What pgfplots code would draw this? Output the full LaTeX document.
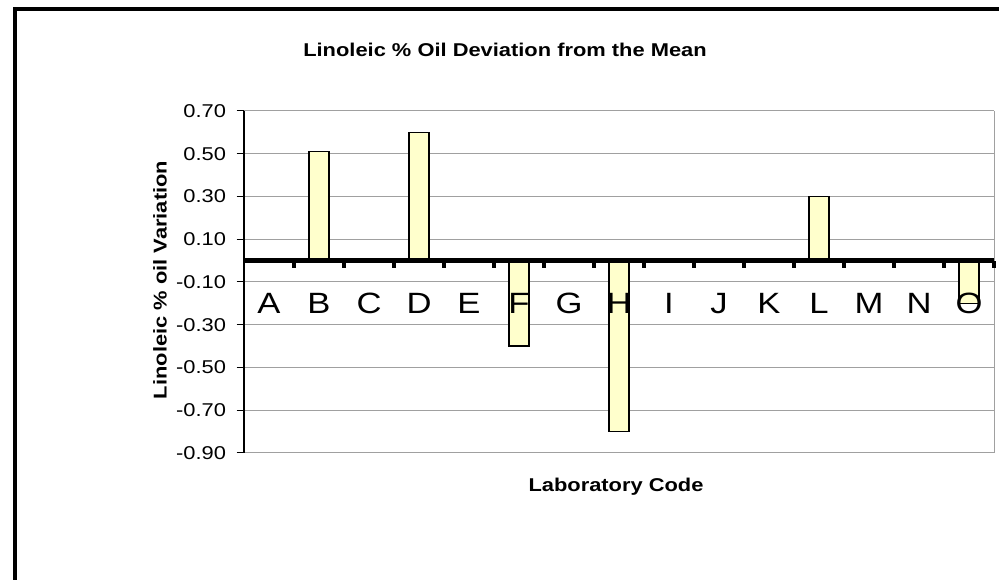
\documentclass[border=0pt]{standalone}
\usepackage{fontspec}
\setmainfont{Liberation Sans}[FakeStretch=1.18]
\usepackage{pgfplots}
\pgfplotsset{compat=1.18}
\definecolor{barfill}{HTML}{FFFFCC}
\definecolor{gridgray}{HTML}{A0A0A0}
\pgfplotsset{
  layers/mylayers/.define layer set={
    axis background,axis grid,main,axis ticks,axis lines,axis tick labels,axis descriptions,axis foreground
  }{
    grid style={/pgfplots/on layer=axis grid},
    tick style={/pgfplots/on layer=axis ticks},
    axis line style={/pgfplots/on layer=axis lines},
    label style={/pgfplots/on layer=axis descriptions},
    legend style={/pgfplots/on layer=axis descriptions},
    title style={/pgfplots/on layer=axis descriptions},
    colorbar style={/pgfplots/on layer=axis descriptions},
    ticklabel style={/pgfplots/on layer=axis tick labels},
    axis background@ style={/pgfplots/on layer=axis background},
    3d box foreground style={/pgfplots/on layer=axis foreground},
  },
}
\begin{document}
\begin{tikzpicture}
\begin{axis}[
  set layers=mylayers,
  at={(183pt,95.25pt)}, anchor=south west,
  scale only axis, width=562.5pt, height=256.5pt,
  xmin=-0.5, xmax=14.5, ymin=-0.9, ymax=0.7,
  axis x line*=middle, axis y line*=left,
  x axis line style={line width=3.2pt, black},
  y axis line style={line width=1pt, black},
  tick align=outside,
  major tick length=5.5pt,
  xtick={-0.5,0.5,...,14.5}, xticklabels={},
  x tick style={line width=2.4pt, black},
  extra x ticks={0,1,...,14},
  extra x tick labels={A,B,C,D,E,F,G,H,I,J,K,L,M,N,O},
  extra x tick style={major tick length=0pt, tick style={draw=none},
     xticklabel style={font=\fontsize{22pt}{25pt}\selectfont, yshift=-21pt}},
  ytick={-0.9,-0.7,-0.5,-0.3,-0.1,0.1,0.3,0.5,0.7},
  y tick style={line width=0.75pt, black},
  yticklabel style={font=\fontsize{13.9pt}{16pt}\selectfont, xshift=-4.5pt},
  /pgf/number format/assume math mode=true,
  yticklabel={\pgfmathprintnumber[fixed, fixed zerofill, precision=2]{\tick}},
  ymajorgrids, grid style={gridgray, line width=0.75pt},
  clip=false,
]
\addplot[ybar, bar width=15pt, fill=barfill, draw=black, line width=1pt] coordinates {
 (0,0) (1,0.51) (2,0) (3,0.60) (4,0) (5,-0.40) (6,0) (7,-0.80)
 (8,0) (9,0) (10,0) (11,0.30) (12,0) (13,0) (14,-0.20)
};
\draw[gridgray, line width=0.75pt] (rel axis cs:1,0) -- (rel axis cs:1,1);
\end{axis}
\draw[line width=2.3pt] (11.25pt,-20pt) -- (11.25pt,428.25pt) -- (770pt,428.25pt);
\node[font=\bfseries\fontsize{13.9pt}{16pt}\selectfont] at (378.75pt,397.5pt) {Linoleic \% Oil Deviation from the Mean};
\node[font=\bfseries\fontsize{13.9pt}{16pt}\selectfont] at (462pt,69.75pt) {Laboratory Code};
\node[font=\bfseries\fontsize{13.9pt}{16pt}\selectfont, rotate=90] at (120pt,225pt) {Linoleic \% oil Variation};
\pgfresetboundingbox
\useasboundingbox (0,0) rectangle (749.25pt,435pt);
\end{tikzpicture}
\end{document}
